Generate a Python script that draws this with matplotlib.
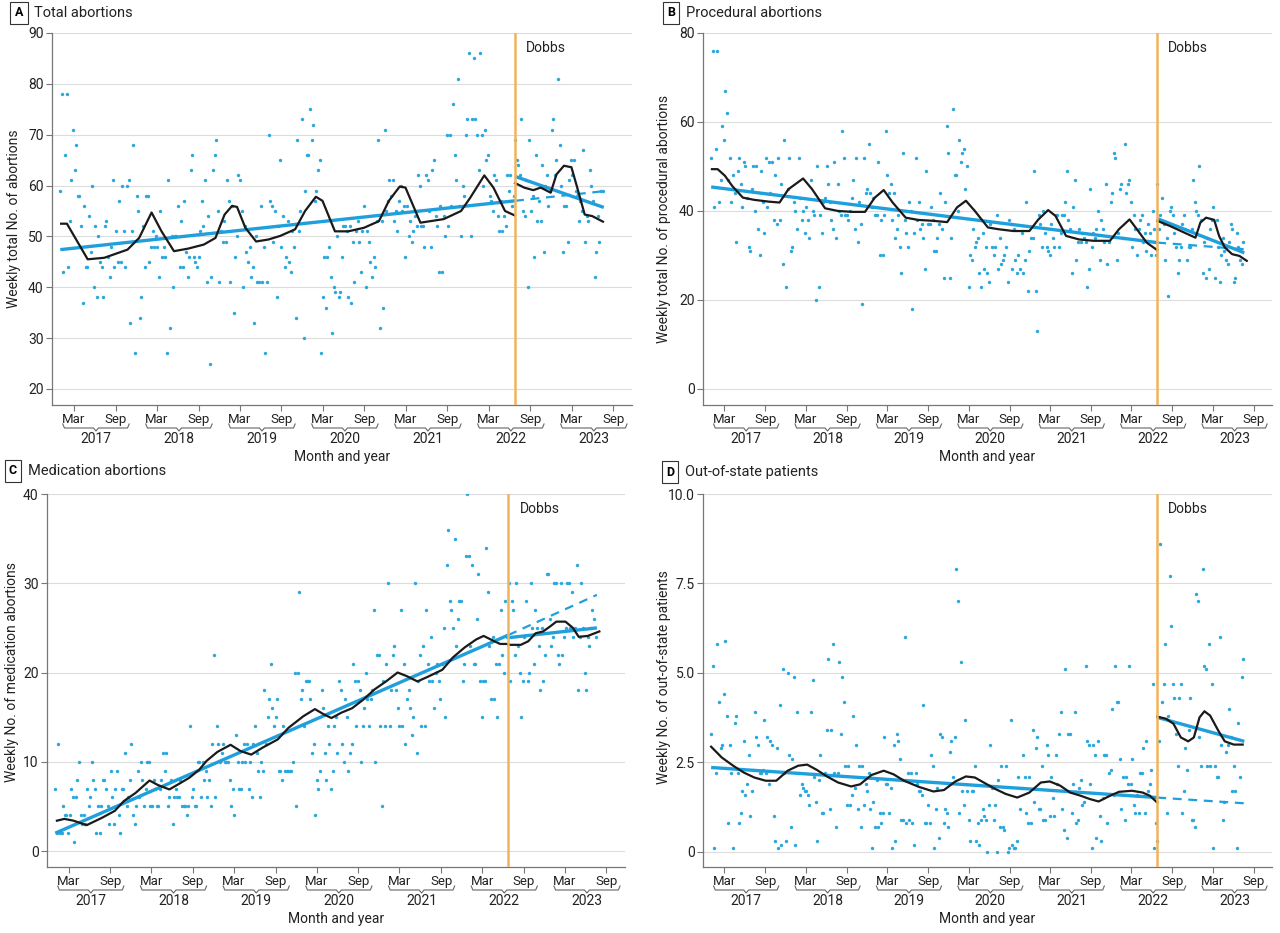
import numpy as np
import matplotlib
matplotlib.use("Agg")
import matplotlib.pyplot as plt

plt.rcParams['font.family'] = ['Liberation Sans Narrow', 'Roboto', 'DejaVu Sans']

# weekly values, one per week starting 2017-01-01 (342 weeks)
total = [59, 78, 43, 66, 78, 44, 53, 61, 71,
         63, 68, 58, 58, 52, 37, 56, 44, 44, 54, 47, 60, 40, 52, 38, 50, 45, 44, 38, 52, 53, 46, 42, 48, 61, 44,
         51, 45, 57, 45, 60, 51, 44, 60, 61, 33, 51, 68, 27, 58, 55, 34, 38, 52, 44, 58, 58, 45, 48, 51, 48, 50,
         48, 42, 55, 46, 48, 46, 27, 61, 32, 50, 40, 50, 50, 56, 44, 53, 44, 57, 47, 42, 46, 63, 66, 46, 45, 44,
         46, 51, 57, 52, 61, 41, 54, 25, 42, 63, 66, 69, 55, 41, 51, 49, 53, 49, 61, 57, 41, 56, 35, 46, 50, 62,
         61, 55, 40, 52, 47, 45, 48, 42, 44, 33, 50, 41, 41, 56, 41, 48, 27, 41, 70, 57, 56, 49, 55, 38, 52, 65,
         48, 54, 44, 46, 53, 45, 43, 51, 48, 34, 69, 51, 55, 73, 30, 59, 66, 66, 75, 69, 72, 57, 59, 63, 65, 27,
         38, 46, 36, 46, 48, 42, 31, 40, 39, 50, 38, 39, 46, 52, 52, 51, 38, 52, 37, 49, 41, 51, 53, 49, 43, 51,
         56, 40, 51, 49, 45, 42, 46, 44, 53, 69, 32, 53, 36, 71, 55, 57, 61, 58, 61, 53, 55, 51, 57, 60, 55, 56,
         46, 56, 50, 53, 49, 51, 54, 52, 62, 60, 52, 52, 48, 62, 61, 55, 48, 63, 65, 54, 52, 43, 56, 43, 54, 50,
         70, 52, 70, 56, 76, 66, 61, 81, 56, 50, 60, 58, 70, 73, 86, 50, 73, 85, 73, 70, 63, 86, 70, 60, 71, 65,
         66, 58, 57, 55, 62, 61, 54, 51, 57, 51, 54, 52, 62, 59, 62, 56, 58,
         69, 65, 64, 62, 73, 55, 54, 61, 40,
         69, 55, 58, 46, 66, 53, 57, 53, 64, 47, 60, 62, 56, 59, 71, 73, 62, 65, 81, 68, 60, 47, 56, 56, 49, 61,
         65, 62, 65, 59, 58, 53, 57, 55, 67, 49, 54, 53, 63, 60, 57, 42, 47, 54, 49, 59, 59]

procedural = [52, 76, 41, 54, 76, 42, 47, 59, 56,
              67, 62, 47, 52, 42, 48, 44, 33, 49, 52, 46, 41, 51, 50, 43, 32, 31, 45, 50, 40, 50, 36, 30, 49, 42, 35,
              52, 41, 51, 44, 51, 38, 48, 37, 52, 38, 46, 28, 56, 23, 45, 52, 31, 32, 42, 40, 36, 52, 43, 38, 40, 35,
              41, 38, 34, 47, 40, 39, 20, 50, 23, 39, 35, 42, 43, 50, 46, 42, 38, 36, 51, 34, 46, 40, 39, 58, 52, 39,
              39, 38, 40, 43, 47, 36, 52, 33, 42, 37, 19, 52, 44, 45, 55, 44, 41, 43, 39, 39, 51, 30, 38, 30, 39, 58,
              48, 44, 46, 38, 44, 34, 36, 39, 32, 26, 53, 38, 35, 32, 42, 40, 18, 35, 52, 38, 42, 36, 37, 34, 27, 49,
              37, 37, 41, 38, 31, 31, 34, 37, 44, 36, 25, 42, 59, 53, 25, 34, 63, 48, 48, 40, 56, 51, 53, 54, 45, 50,
              23, 30, 29, 36, 32, 33, 34, 26, 23, 35, 27, 32, 26, 24, 37, 32, 30, 32, 39, 27, 34, 28, 29, 30, 32, 24,
              38, 37, 27, 36, 29, 26, 30, 27, 35, 26, 29, 42, 22, 31, 34, 34, 49, 22, 13, 39, 37, 32, 40, 35, 32, 31,
              30, 37, 34, 32, 39, 39, 32, 35, 39, 39, 42, 49, 38, 36, 26, 41, 47, 29, 33, 36, 33, 35, 34, 33, 23, 27,
              45, 32, 35, 34, 36, 40, 29, 38, 36, 33, 46, 28, 33, 42, 44, 53, 52, 29, 35, 45, 46, 34, 55, 44, 46, 47,
              42, 32, 39, 36, 30, 36, 38, 39, 33, 35, 31, 37, 35, 30, 40, 36, 30,
              46, 36, 39, 43, 37, 29, 34, 21, 40,
              41, 39, 35, 32, 26, 29, 32, 37, 39, 36, 29, 32, 32, 36, 47, 42, 40, 39, 50, 38, 26, 33, 25, 34, 27, 36,
              38, 41, 25, 38, 32, 24, 30, 34, 31, 29, 28, 33, 37, 36, 24, 25, 35, 32, 29, 28, 33]

medication = [7, 2, 12, 2, 2, 5, 4, 4, 2,
              4, 7, 6, 1, 6, 8, 10, 4, 3, 4, 3, 7, 5, 6, 10, 8, 7, 2, 5, 2, 5, 8, 8, 7, 5, 3,
              9, 6, 3, 7, 9, 4, 2, 7, 7, 11, 5, 6, 8, 12, 4, 3, 5, 9, 6, 10, 8, 5, 7, 10, 10, 5,
              5, 8, 7, 5, 5, 7, 8, 11, 9, 11, 5, 6, 8, 3, 6, 7, 6, 6, 8, 5, 5, 5, 4, 5, 14, 6,
              7, 5, 5, 10, 10, 6, 10, 8, 9, 6, 8, 5, 12, 22, 6, 14, 12, 10, 11, 12, 10, 10, 10, 8, 5, 7,
              4, 13, 10, 7, 7, 10, 12, 10, 12, 7, 10, 6, 12, 14, 11, 9, 6, 10, 9, 18, 12, 15, 17, 21, 16, 14,
              15, 17, 9, 9, 8, 14, 9, 9, 9, 9, 9, 10, 20, 5, 20, 29, 17, 18, 14, 19, 19, 19, 17, 11, 12, 4,
              8, 7, 9, 18, 16, 11, 8, 14, 12, 7, 9, 14, 15, 11, 19, 18, 12, 10, 17, 15, 9, 11, 12, 21, 19, 14,
              19, 18, 10, 14, 16, 20, 17, 14, 17, 18, 27, 10, 22, 22, 14, 5, 19, 14, 21, 30, 14, 18, 22, 23, 18, 16,
              14, 27, 14, 21, 12, 17, 18, 16, 13, 15, 30, 11, 19, 22, 14, 23, 14, 27, 21, 19, 24, 19, 16, 20, 21, 19,
              17, 21, 25, 15, 32, 36, 28, 27, 25, 35, 23, 26, 28, 28, 19, 21, 33, 40, 33, 23, 32, 21, 21, 26, 31, 19,
              15, 19, 19, 34, 29, 23, 17, 24, 17, 21, 15, 21, 27, 22, 20, 28, 24,
              30, 19, 28, 27, 22, 30, 23, 20, 15,
              19, 24, 28, 19, 20, 30, 25, 21, 27, 25, 23, 18, 25, 19, 22, 31, 31, 26, 23, 24, 30, 30, 22, 21, 30, 22,
              24, 25, 30, 30, 25, 29, 24, 25, 32, 18, 24, 30, 25, 20, 18, 24, 23, 25, 27, 26, 24]

out_of_state = [3.3, 5.2, 0.1, 2.2, 5.8, 4.2, 2.9, 3.0, 4.4,
                5.9, 3.8, 0.8, 3.0, 2.2, 0.1, 3.6, 3.8, 2.2, 0.8, 1.1, 1.7, 3.1, 1.6, 1.9, 2.7, 1.0, 1.7, 2.3, 3.9, 3.2, 3.0, 2.2, 2.2, 2.3, 3.7,
                2.2, 3.2, 1.9, 3.1, 3.0, 1.0, 0.3, 2.9, 0.1, 4.1, 0.2, 5.1, 2.2, 0.3, 5.0, 2.7, 0.7, 2.6, 4.9, 0.2, 3.9, 2.2, 1.6, 1.9, 1.8, 1.7,
                1.7, 1.6, 1.3, 3.9, 4.8, 2.1, 1.4, 0.3, 2.0, 2.7, 1.1, 1.1, 2.2, 3.4, 5.4, 1.2, 3.4, 5.8, 2.2, 0.7, 2.2, 5.3, 3.3, 4.9, 4.2, 2.4,
                1.3, 2.4, 1.3, 1.6, 3.8, 1.8, 3.0, 1.2, 2.4, 0.7, 2.4, 1.3, 1.9, 1.7, 2.2, 1.2, 0.1, 1.4, 0.7, 2.0, 0.7, 1.1, 0.8, 1.1, 3.2, 1.9,
                1.9, 1.1, 1.8, 0.1, 3.0, 0.3, 3.3, 3.1, 2.6, 0.9, 0.9, 6.0, 0.8, 2.2, 0.9, 2.2, 0.8, 0.2, 2.2, 1.9, 1.7, 1.7, 1.6, 4.1, 0.8, 0.8,
                1.3, 0.8, 2.7, 2.4, 0.1, 1.2, 1.8, 0.4, 3.3, 3.2, 0.8, 1.2, 1.1, 0.7, 2.8, 3.1, 2.1, 3.2, 7.9, 7.0, 1.1, 5.3, 1.7, 1.3, 3.7, 1.7,
                0.9, 0.3, 1.7, 1.7, 2.4, 0.3, 0.8, 0.2, 0.9, 1.2, 1.0, 0.9, 0.0, 1.3, 3.0, 1.8, 0.9, 1.3, 0.0, 2.0, 0.7, 2.4, 0.7, 0.6, 2.4, 0.0,
                0.1, 3.7, 0.2, 0.1, 0.1, 0.3, 2.1, 1.2, 1.8, 2.7, 2.1, 1.1, 0.8, 2.1, 0.8, 3.4, 1.4, 2.9, 3.2, 1.2, 1.2, 2.4, 0.9, 0.9, 3.0, 2.7,
                1.0, 2.1, 1.5, 1.0, 2.7, 1.9, 3.3, 3.9, 1.2, 0.6, 5.1, 0.4, 3.3, 3.3, 1.1, 1.9, 3.9, 0.8, 0.9, 1.8, 2.0, 1.3, 1.4, 5.2, 3.1, 3.0,
                1.9, 0.1, 3.0, 2.7, 0.4, 3.1, 1.0, 0.3, 1.5, 2.7, 2.7, 0.8, 2.2, 2.3, 4.0, 1.6, 5.2, 4.2, 4.2, 2.6, 1.2, 2.1, 0.9, 2.1, 1.9, 5.2,
                1.9, 2.6, 1.3, 1.1, 1.6, 1.1, 2.2, 2.2, 2.9, 1.1, 3.1, 1.7, 1.9, 2.3, 4.7, 0.1, 0.8,
                0.3, 3.1, 8.6, 4.2, 4.7, 5.8, 1.1, 3.8, 7.7,
                6.3, 4.7, 4.3, 3.3, 2.4, 4.3, 4.7, 1.1, 1.7, 2.9, 2.3, 3.4, 4.3, 0.9, 0.9, 0.7, 7.2, 7.0, 3.2, 2.4, 7.9, 5.2, 5.1, 2.4, 5.8, 2.4,
                4.7, 0.1, 2.4, 2.1, 2.1, 6.0, 3.0, 0.9, 1.4, 2.8, 3.0, 4.0, 3.2, 1.7, 2.4, 1.7, 0.1, 3.6, 2.1, 4.9, 5.4]

# seasonal model fit (black line), decimal year / value, before and after Dobbs
total_fit_pre_x = [2017.01, 2017.08, 2017.33, 2017.53, 2017.81, 2017.95, 2018.10, 2018.22, 2018.37, 2018.54,
                   2018.73, 2018.87, 2018.98, 2019.07, 2019.13, 2019.23, 2019.36, 2019.51, 2019.65, 2019.83,
                   2019.95, 2020.08, 2020.16, 2020.31, 2020.47, 2020.66, 2020.84, 2020.96, 2021.09, 2021.16,
                   2021.34, 2021.62, 2021.83, 2021.94, 2022.11, 2022.22, 2022.36, 2022.48]
total_fit_pre_y = [52.5, 52.5, 45.5, 45.8, 47.4, 49.7, 54.7, 51.0, 47.1, 47.6, 48.4, 49.7, 54.3, 56.0, 55.8, 51.7,
                   49.0, 49.4, 50.1, 51.4, 55.0, 57.8, 57.0, 51.0, 51.0, 51.7, 53.0, 57.0, 59.8, 59.6, 52.7, 53.4,
                   55.0, 57.6, 62.0, 59.6, 55.0, 54.1]
total_fit_post_x = [2022.48, 2022.59, 2022.70, 2022.79, 2022.91, 2022.98, 2023.07, 2023.16, 2023.23, 2023.32, 2023.41, 2023.54]
total_fit_post_y = [60.5, 59.6, 59.1, 59.6, 58.6, 62.2, 63.9, 63.6, 59.6, 54.3, 54.0, 52.9]

proc_fit_pre_x = [2017.01, 2017.08, 2017.17, 2017.26, 2017.39, 2017.53, 2017.71, 2017.84, 2017.95, 2018.13,
                  2018.24, 2018.40, 2018.56, 2018.74, 2018.89, 2019.01, 2019.12, 2019.23, 2019.39, 2019.54,
                  2019.72, 2019.90, 2020.02, 2020.13, 2020.24, 2020.40, 2020.53, 2020.71, 2020.91, 2021.02,
                  2021.14, 2021.23, 2021.36, 2021.52, 2021.70, 2021.90, 2022.01, 2022.14, 2022.23, 2022.35, 2022.48]
proc_fit_pre_y = [49.4, 49.4, 47.9, 45.6, 43.0, 42.5, 42.1, 41.9, 44.9, 47.3, 44.9, 40.6, 40.0, 39.8, 39.8, 43.0,
                  44.7, 41.9, 38.5, 38.0, 37.8, 37.5, 40.8, 42.3, 40.0, 36.3, 35.9, 35.5, 35.5, 38.1, 40.2, 38.9,
                  34.4, 33.6, 33.3, 33.3, 35.9, 38.1, 35.9, 32.9, 31.2]
proc_fit_post_x = [2022.48, 2022.64, 2022.77, 2022.95, 2023.01, 2023.08, 2023.18, 2023.24, 2023.31, 2023.40, 2023.49, 2023.58]
proc_fit_post_y = [37.8, 36.6, 35.5, 34.0, 37.4, 38.5, 38.0, 34.4, 31.8, 30.3, 29.9, 28.8]

med_fit_pre_x = [2017.02, 2017.11, 2017.22, 2017.38, 2017.56, 2017.72, 2017.83, 2017.97, 2018.14, 2018.24,
                 2018.38, 2018.51, 2018.62, 2018.74, 2018.83, 2018.96, 2019.12, 2019.24, 2019.37, 2019.51,
                 2019.69, 2019.82, 2020.00, 2020.14, 2020.25, 2020.34, 2020.46, 2020.59, 2020.73, 2020.86,
                 2021.00, 2021.14, 2021.25, 2021.38, 2021.50, 2021.68, 2021.81, 2021.95, 2022.09, 2022.18,
                 2022.31, 2022.38, 2022.48]
med_fit_pre_y = [3.4, 3.6, 3.4, 2.9, 3.7, 4.5, 5.6, 6.5, 7.9, 7.4, 6.9, 7.6, 8.2, 9.1, 10.1, 11.1, 11.9, 11.2,
                 10.8, 11.6, 12.5, 13.8, 15.1, 15.9, 15.3, 14.9, 15.5, 16.0, 17.0, 18.1, 19.0, 20.0, 19.6, 19.0,
                 19.5, 20.3, 21.7, 22.8, 23.7, 24.1, 23.5, 23.2, 23.2]
med_fit_post_x = [2022.48, 2022.63, 2022.72, 2022.81, 2022.90, 2022.99, 2023.06, 2023.17, 2023.26, 2023.33, 2023.44, 2023.58]
med_fit_post_y = [23.1, 23.1, 23.5, 24.4, 24.6, 25.2, 25.7, 25.7, 25.0, 24.0, 24.1, 24.6]

oos_fit_pre_x = [2017.00, 2017.13, 2017.27, 2017.40, 2017.53, 2017.67, 2017.80, 2017.94, 2018.07, 2018.18,
                 2018.30, 2018.43, 2018.56, 2018.72, 2018.83, 2018.97, 2019.12, 2019.24, 2019.37, 2019.55,
                 2019.73, 2019.86, 2020.00, 2020.13, 2020.24, 2020.38, 2020.49, 2020.62, 2020.76, 2020.91,
                 2021.05, 2021.16, 2021.29, 2021.41, 2021.54, 2021.65, 2021.76, 2021.90, 2022.01, 2022.17,
                 2022.30, 2022.39, 2022.48]
oos_fit_pre_y = [2.94, 2.64, 2.41, 2.22, 2.08, 1.99, 1.99, 2.27, 2.41, 2.44, 2.29, 2.10, 1.94, 1.83, 1.89, 2.15,
                 2.27, 2.17, 1.99, 1.82, 1.69, 1.73, 1.97, 2.11, 2.08, 1.90, 1.76, 1.62, 1.52, 1.66, 1.94, 1.97,
                 1.85, 1.66, 1.57, 1.48, 1.41, 1.57, 1.68, 1.71, 1.66, 1.57, 1.38]
oos_fit_post_x = [2022.48, 2022.59, 2022.68, 2022.77, 2022.86, 2022.93, 2023.00, 2023.06, 2023.13, 2023.23, 2023.31, 2023.42, 2023.53]
oos_fit_post_y = [3.78, 3.72, 3.58, 3.20, 3.09, 3.20, 3.76, 3.93, 3.81, 3.39, 3.09, 3.00, 3.00]

# linear trends: [start, end] of pre-Dobbs, post-Dobbs, and the end of the projected pre trend
total_trend_pre, total_trend_post, total_proj_end = [47.4, 57.0], [61.8, 55.7], 58.9
proc_trend_pre, proc_trend_post, proc_proj_end = [45.4, 32.9], [38.3, 30.6], 31.4
med_trend_pre, med_trend_post, med_proj_end = [2.0, 24.2], [23.9, 25.0], 28.7
oos_trend_pre, oos_trend_post, oos_proj_end = [2.36, 1.52], [3.76, 3.09], 1.36

DOBBS = 2022.48
START, END = 2017.0, 2023.55
years = list(range(2017, 2024))

BLUE = '#1f9fdc'
DOT = '#2aa8de'
ORANGE = '#f2b45a'
W, H = 1280, 933

fig = plt.figure(figsize=(W / 100, H / 100), dpi=100)


def px_axes(l, t, r, b):
    return fig.add_axes([l / W, 1 - b / H, (r - l) / W, (b - t) / H])


def panel(ax, vals, fit_pre, fit_post, tr_pre, tr_post, proj_end, ylim, yticks, ytl):
    weeks = START + np.arange(len(vals)) * 7 / 365.25
    ax.scatter(weeks, vals, s=6, color=DOT, linewidths=0, zorder=2)
    ax.plot([START, DOBBS], tr_pre, color=BLUE, lw=2.4, zorder=3, solid_capstyle='butt')
    ax.plot([DOBBS, END], [tr_pre[1], proj_end], color=BLUE, lw=1.6, ls=(0, (4, 3)), zorder=3)
    ax.plot([DOBBS, END], tr_post, color=BLUE, lw=2.4, zorder=3, solid_capstyle='butt')
    ax.plot(fit_pre[0], fit_pre[1], color='#1a1a1a', lw=1.6, zorder=4)
    ax.plot(fit_post[0], fit_post[1], color='#1a1a1a', lw=1.6, zorder=4)
    ax.axvline(DOBBS, color=ORANGE, lw=1.8, zorder=5)
    ax.annotate('Dobbs', xy=(DOBBS, 1), xycoords=('data', 'axes fraction'), xytext=(8, -11),
                textcoords='offset points', fontsize=10, color='#222', va='center')

    ax.set_xlim(2016.90, 2023.89)
    ax.set_ylim(*ylim)
    ax.set_yticks(yticks)
    ax.set_yticklabels(ytl, fontsize=10, color='#222')
    ax.grid(axis='y', color='#dcdcdc', lw=0.8)
    ax.set_axisbelow(True)
    for s in ['top', 'right']:
        ax.spines[s].set_visible(False)
    for s in ['left', 'bottom']:
        ax.spines[s].set_color('#777')
        ax.spines[s].set_linewidth(0.9)
    ax.tick_params(axis='y', length=4, color='#777', pad=2)

    ticks, labels = [], []
    for y in years:
        ticks += [y + 59 / 365, y + 243 / 365]
        labels += ['Mar', 'Sep']
    ax.set_xticks(ticks)
    ax.set_xticklabels(labels, fontsize=9.5, color='#222')
    ax.tick_params(axis='x', length=4, color='#777', pad=2)

    # year brackets under the month labels
    h_px = ax.get_position().height * H
    f = lambda p: -p / h_px
    tr = ax.get_xaxis_transform()
    for y in years:
        x0, x1 = y + 0.03, y + 0.83
        xm = (x0 + x1) / 2
        bx = [x0, x0 + 0.02, xm - 0.03, xm, xm + 0.03, x1 - 0.02, x1]
        by = [f(19), f(23), f(23), f(26), f(23), f(23), f(19)]
        ax.plot(bx, by, color='#666', lw=0.8, transform=tr, clip_on=False)
        ax.text(xm, f(27), str(y), transform=tr, ha='center', va='top', fontsize=10, color='#222')
    ax.text(0.5, f(52), 'Month and year', transform=ax.transAxes, ha='center', va='center',
            fontsize=10, color='#222')


def title(x, y, letter, text):
    fig.text(x / W, 1 - y / H, letter, fontsize=9, fontweight='bold', ha='center', va='center',
             bbox=dict(boxstyle='square,pad=0.35', fc='white', ec='#333', lw=0.8))
    fig.text((x + 15) / W, 1 - y / H, text, fontsize=10.5, ha='left', va='center', color='#222')


def ylabel(x, y, text):
    fig.text(x / W, 1 - y / H, text, rotation=90, ha='center', va='center', fontsize=10, color='#222')


axA = px_axes(52, 33, 632, 405)
panel(axA, total, (total_fit_pre_x, total_fit_pre_y), (total_fit_post_x, total_fit_post_y),
      total_trend_pre, total_trend_post, total_proj_end, (16.85, 90),
      range(20, 91, 10), [str(v) for v in range(20, 91, 10)])
title(19, 13, 'A', 'Total abortions')
ylabel(14, 219, 'Weekly total No. of abortions')

axB = px_axes(703, 33, 1272, 405)
panel(axB, procedural, (proc_fit_pre_x, proc_fit_pre_y), (proc_fit_post_x, proc_fit_post_y),
      proc_trend_pre, proc_trend_post, proc_proj_end, (-3.6, 80),
      range(0, 81, 20), [str(v) for v in range(0, 81, 20)])
title(671, 13, 'B', 'Procedural abortions')
ylabel(664, 219, 'Weekly total No. of procedural abortions')

axC = px_axes(47, 494, 625, 867)
panel(axC, medication, (med_fit_pre_x, med_fit_pre_y), (med_fit_post_x, med_fit_post_y),
      med_trend_pre, med_trend_post, med_proj_end, (-1.79, 40),
      range(0, 41, 10), [str(v) for v in range(0, 41, 10)])
title(13, 471, 'C', 'Medication abortions')
ylabel(12, 672, 'Weekly No. of medication abortions')

axD = px_axes(703, 494, 1272, 867)
panel(axD, out_of_state, (oos_fit_pre_x, oos_fit_pre_y), (oos_fit_post_x, oos_fit_post_y),
      oos_trend_pre, oos_trend_post, oos_proj_end, (-0.42, 10),
      [0, 2.5, 5, 7.5, 10], ['0', '2.5', '5.0', '7.5', '10.0'])
title(670, 472, 'D', 'Out-of-state patients')
ylabel(664, 677, 'Weekly No. of out-of-state patients')

fig.savefig('out.png', dpi=100, facecolor='white')
